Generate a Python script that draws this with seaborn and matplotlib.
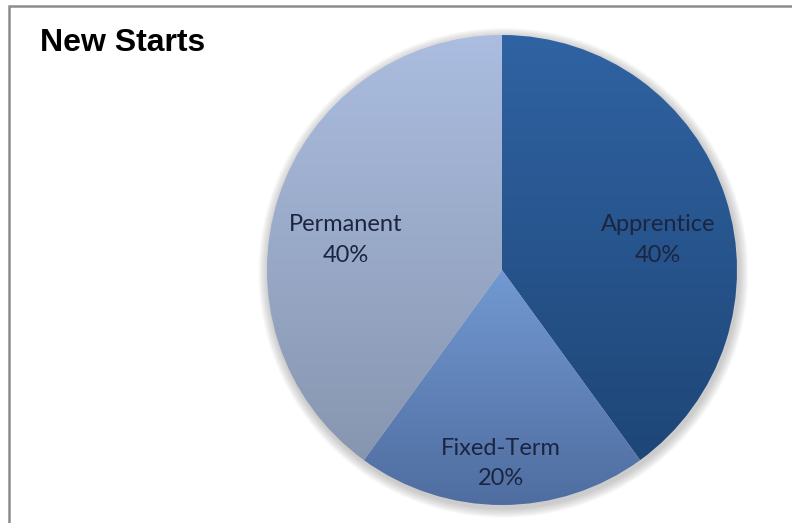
import numpy as np
import matplotlib
matplotlib.use("Agg")
import matplotlib.pyplot as plt
from matplotlib.patches import Circle, Rectangle
from matplotlib.colors import to_rgb
import seaborn as sns

# Share of new starts by contract type
categories = ["Apprentice", "Fixed-Term", "Permanent"]
shares = [40, 20, 40]

# Vertical shading for each slice: (top colour, bottom colour)
slice_shades = [("#3063a3", "#1e4677"),
                ("#7299d2", "#4f6da0"),
                ("#abbde0", "#8796b0")]

# Label anchors in pie units (radius = 1)
label_anchor = [(0.665, 0.128), (-0.003, -0.823), (-0.664, 0.128)]

sns.set_theme(style="white")
plt.rcParams["font.family"] = ["Lato", "DejaVu Sans"]

fig = plt.figure(figsize=(7.92, 5.23), dpi=100)
fig.patch.set_facecolor("white")

# Chart frame (top and left edges visible)
fig.patches.append(Rectangle((9 / 792, -0.2), 1.5, 1 - 6 / 523 + 0.2,
                             transform=fig.transFigure, fill=False,
                             edgecolor="#8c8c8c", linewidth=1.8))

ax = fig.add_axes([267 / 792, 18 / 523, 470 / 792, 470 / 523])

wedges, _ = ax.pie(shares, startangle=90, counterclock=False, radius=1,
                   wedgeprops=dict(edgecolor="none", linewidth=0))
ax.set_xlim(-1, 1)
ax.set_ylim(-1, 1)
ax.set_aspect("equal")
ax.axis("off")

# Soft drop shadow beneath the pie
for k in range(12):
    r = 1.0 + 0.0035 * (k + 1)
    ax.add_patch(Circle((0.006, -0.012), r, facecolor="#7a7a7a",
                        edgecolor="none", alpha=0.035, zorder=0,
                        clip_on=False))

# Gradient fill clipped to each wedge
for w, (top, bottom) in zip(wedges, slice_shades):
    w.set_facecolor("none")
    ext = w.get_path().get_extents()
    pal = sns.blend_palette([top, bottom], n_colors=256)
    grad = np.array([to_rgb(c) for c in pal]).reshape(256, 1, 3)
    im = ax.imshow(grad, extent=(-1, 1, ext.y0, ext.y1), origin="upper",
                   aspect="auto", interpolation="bilinear", zorder=1)
    im.set_clip_path(w)

ax.set_xlim(-1, 1)
ax.set_ylim(-1, 1)

for name, val, (x, y) in zip(categories, shares, label_anchor):
    ax.text(x, y, f"{name}\n{val}%", ha="center", va="center",
            fontsize=17, color="#1b2540", linespacing=1.55, zorder=3)

fig.text(40 / 792, 1 - 43 / 523, "New Starts", ha="left", va="center",
         fontsize=23, fontweight="bold", color="black",
         family=["Liberation Sans", "DejaVu Sans"])

fig.savefig("out.png", dpi=100, facecolor="white")
